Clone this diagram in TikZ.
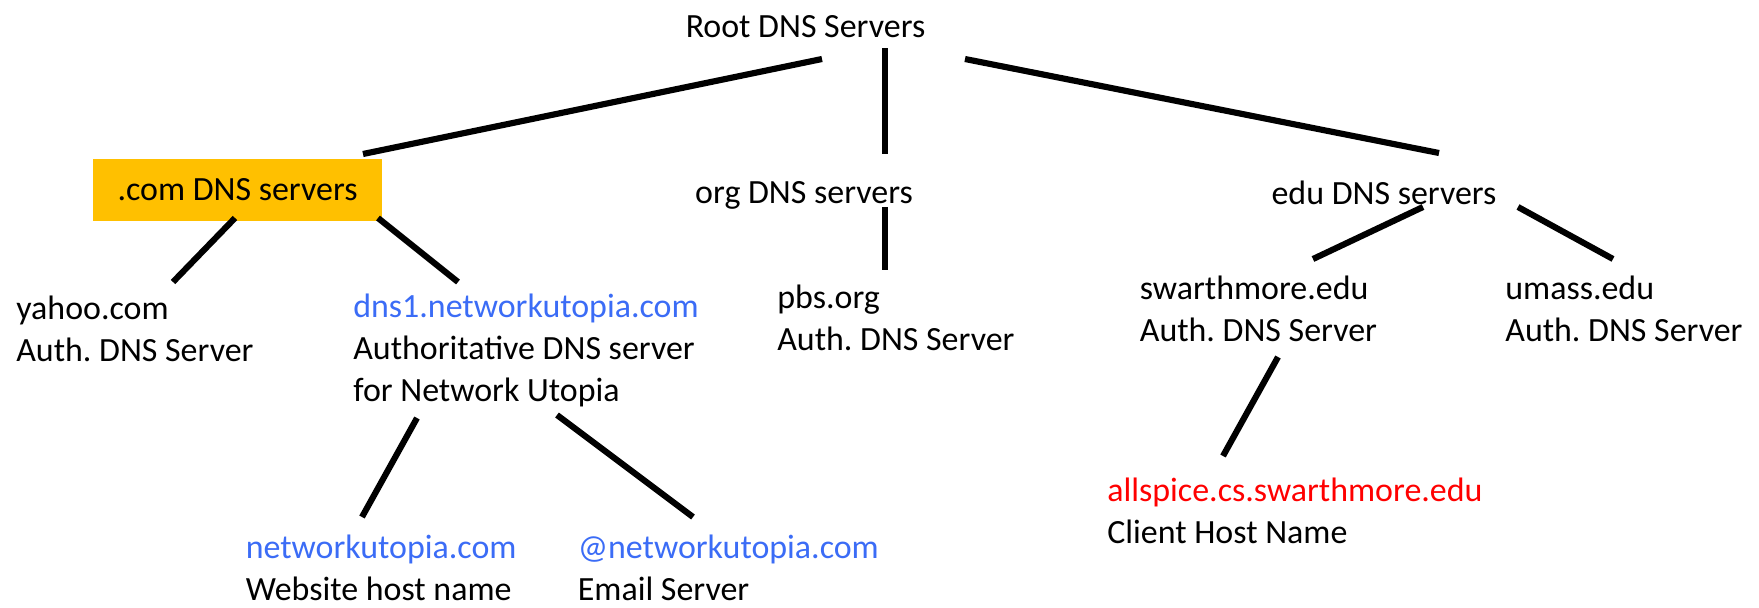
\documentclass[tikz,border=0pt]{standalone}
\usepackage{fontspec}
\setmainfont{Carlito}
\frenchspacing
\definecolor{comgold}{HTML}{FFC000}
\definecolor{linkblue}{HTML}{3B6CF6}
\begin{document}
\begin{tikzpicture}[txt/.style={font=\fontsize{19.3}{23.9}\selectfont,inner sep=0pt,align=left,anchor=west},
    link/.style={draw=black,line width=3.5pt}]
\useasboundingbox (0,0) rectangle (35.18,12.14);
% servers
\node[txt,anchor=center] (root) at (16.11,11.60) {Root DNS Servers};
\node[txt,anchor=center,fill=comgold,minimum width=5.78cm,minimum height=1.24cm] (com) at (4.75,8.34) {.com DNS servers};
\node[txt,anchor=center] (org) at (16.08,8.24) {org DNS servers};
\node[txt,anchor=center] (edu) at (27.68,8.28) {edu DNS servers};
\node[txt] (yahoo) at (0.32,5.56) {yahoo.com\\Auth. DNS Server};
\node[txt] (dns1) at (7.06,5.14) {\textcolor{linkblue}{dns1.networkutopia.com}\\Authoritative DNS server\\for Network Utopia};
\node[txt] (pbs) at (15.54,5.79) {pbs.org\\Auth. DNS Server};
\node[txt] (swarth) at (22.79,5.96) {swarthmore.edu\\Auth. DNS Server};
\node[txt] (umass) at (30.10,5.96) {umass.edu\\Auth. DNS Server};
\node[txt] (web) at (4.91,0.78) {\textcolor{linkblue}{networkutopia.com}\\Website host name};
\node[txt] (email) at (11.55,0.78) {\textcolor{linkblue}{@networkutopia.com}\\Email Server};
\node[txt] (allspice) at (22.14,1.92) {\textcolor{red}{allspice.cs.swarthmore.edu}\\Client Host Name};
% line ends
\coordinate (root-l) at (16.44,10.96);
\coordinate (root-m) at (17.70,11.18);
\coordinate (root-r) at (19.30,10.96);
\coordinate (com-t) at (7.26,9.06);
\coordinate (org-t) at (17.70,9.06);
\coordinate (edu-t) at (28.78,9.08);
\coordinate (com-l) at (4.70,7.78);
\coordinate (com-r) at (7.56,7.78);
\coordinate (org-b) at (17.70,8.00);
\coordinate (edu-l) at (28.46,8.00);
\coordinate (edu-r) at (30.36,8.00);
\coordinate (yahoo-t) at (3.46,6.50);
\coordinate (dns1-t) at (9.16,6.50);
\coordinate (pbs-t) at (17.70,6.74);
\coordinate (swarth-t) at (26.26,6.96);
\coordinate (umass-t) at (32.26,6.96);
\coordinate (dns1-l) at (8.34,3.78);
\coordinate (dns1-r) at (11.14,3.84);
\coordinate (web-t) at (7.24,1.80);
\coordinate (email-t) at (13.86,1.80);
\coordinate (swarth-b) at (25.56,5.00);
\coordinate (allspice-t) at (24.46,3.02);
\foreach \a/\b in {root-l/com-t,root-m/org-t,root-r/edu-t,com-l/yahoo-t,com-r/dns1-t,org-b/pbs-t,
    edu-l/swarth-t,edu-r/umass-t,dns1-l/web-t,dns1-r/email-t,swarth-b/allspice-t}
  \draw[link] (\a) -- (\b);
\end{tikzpicture}
\end{document}
